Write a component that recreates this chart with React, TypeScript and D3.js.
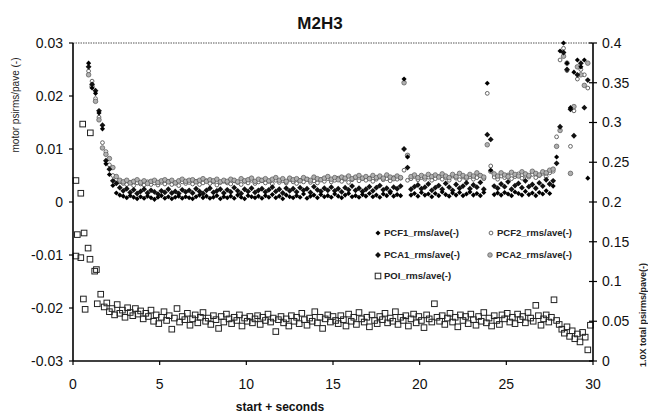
import React from "react";
import * as d3 from "d3";

const title = "M2H3";
const xTitle = "start + seconds";
const yLeftTitle = "motor psirms/pave (-)";
const yRightTitle = "1.0X total psirms/pave(-)";
const xTicks = [0, 5, 10, 15, 20, 25, 30];
const yLeftTicks = [-0.03, -0.02, -0.01, 0, 0.01, 0.02, 0.03];
const yLeftLabels = ["-0.03", "-0.02", "-0.01", "0", "0.01", "0.02", "0.03"];
const yRightTicks = [0, 0.05, 0.1, 0.15, 0.2, 0.25, 0.3, 0.35, 0.4];
const yRightLabels = ["0", "0.05", "0.1", "0.15", "0.2", "0.25", "0.3", "0.35", "0.4"];

// motor series sampled from t = 0.9 s every 0.2 s
const motorT0 = 0.9;
const motorDt = 0.2;

const pcf1 = [
  0.0262, 0.0215, 0.0205, 0.0168, 0.0138, 0.0072, 0.0052, 0.0031, 0.0017, 0.0013,
  0.0011, 0.0008, 0.0012, 0.0009, 0.0006, 0.0010, 0.0007, 0.0011, 0.0008, 0.0005,
  0.0009, 0.0012, 0.0007, 0.0010, 0.0006, 0.0009, 0.0011, 0.0007, 0.0010, 0.0008,
  0.0006, 0.0010, 0.0013, 0.0008, 0.0011, 0.0007, 0.0009, 0.0012, 0.0006, 0.0010,
  0.0008, 0.0011, 0.0007, 0.0013, 0.0009, 0.0006, 0.0012, 0.0010, 0.0008, 0.0011,
  0.0007, 0.0012, 0.0009, 0.0014, 0.0008, 0.0011, 0.0006, 0.0013, 0.0010, 0.0008,
  0.0012, 0.0009, 0.0015, 0.0007, 0.0011, 0.0013, 0.0008, 0.0014, 0.0010, 0.0012,
  0.0009, 0.0015, 0.0011, 0.0008, 0.0013, 0.0016, 0.0010, 0.0012, 0.0009, 0.0014,
  0.0011, 0.0016, 0.0010, 0.0013, 0.0009, 0.0015, 0.0012, 0.0017, 0.0011, 0.0014,
  0.0012, 0.0232, 0.0085, 0.0013, 0.0016, 0.0011, 0.0018, 0.0013, 0.0015, 0.0010,
  0.0016, 0.0012, 0.0019, 0.0014, 0.0011, 0.0017, 0.0013, 0.0018, 0.0012, 0.0015,
  0.0019, 0.0013, 0.0016, 0.0012, 0.0018, 0.0224, 0.0060, 0.0014, 0.0017, 0.0013,
  0.0018, 0.0015, 0.0012, 0.0019, 0.0016, 0.0013, 0.0020, 0.0014, 0.0017, 0.0012,
  0.0018, 0.0015, 0.0021, 0.0016, 0.0030, 0.0085, 0.0285, 0.0300, 0.0262, 0.0178,
  0.0245, 0.0268, 0.0255, 0.0268, 0.0045,
];

const pca1 = [
  0.0255, 0.0222, 0.0210, 0.0172, 0.0145, 0.0078, 0.0062, 0.0040, 0.0035, 0.0027,
  0.0021, 0.0025, 0.0018, 0.0023, 0.0016, 0.0020, 0.0024, 0.0017, 0.0022, 0.0019,
  0.0015, 0.0021, 0.0018, 0.0024, 0.0017, 0.0020, 0.0016, 0.0023, 0.0019, 0.0022,
  0.0017, 0.0025, 0.0020, 0.0016, 0.0022, 0.0026, 0.0018, 0.0021, 0.0024, 0.0017,
  0.0023, 0.0019, 0.0027, 0.0021, 0.0016, 0.0024, 0.0020, 0.0026, 0.0018, 0.0022,
  0.0025, 0.0019, 0.0023, 0.0028, 0.0020, 0.0024, 0.0017, 0.0026, 0.0021, 0.0025,
  0.0019, 0.0027, 0.0022, 0.0025, 0.0018, 0.0029, 0.0023, 0.0020, 0.0026, 0.0022,
  0.0028, 0.0021, 0.0025, 0.0019, 0.0027, 0.0023, 0.0030, 0.0022, 0.0026, 0.0020,
  0.0024, 0.0029, 0.0021, 0.0027, 0.0031, 0.0023, 0.0026, 0.0020, 0.0028, 0.0025,
  0.0030, 0.0100, 0.0065, 0.0024, 0.0029, 0.0032, 0.0025, 0.0028, 0.0034, 0.0022,
  0.0027, 0.0031, 0.0024, 0.0035, 0.0028, 0.0022, 0.0033, 0.0026, 0.0030, 0.0036,
  0.0025, 0.0032, 0.0028, 0.0037, 0.0024, 0.0127, 0.0118, 0.0030, 0.0026, 0.0034,
  0.0029, 0.0038, 0.0024, 0.0031, 0.0035, 0.0027, 0.0040, 0.0029, 0.0033, 0.0026,
  0.0036, 0.0030, 0.0042, 0.0034, 0.0040, 0.0073, 0.0142, 0.0282, 0.0250, 0.0175,
  0.0125, 0.0240, 0.0262, 0.0178, 0.0230,
];

const pcf2 = [
  0.0247, 0.0228, 0.0195, 0.0160, 0.0112, 0.0095, 0.0070, 0.0050, 0.0042, 0.0038,
  0.0035, 0.0033, 0.0037, 0.0031, 0.0036, 0.0034, 0.0032, 0.0038, 0.0033, 0.0036,
  0.0032, 0.0037, 0.0034, 0.0039, 0.0033, 0.0036, 0.0031, 0.0038, 0.0035, 0.0037,
  0.0034, 0.0039, 0.0033, 0.0036, 0.0040, 0.0035, 0.0038, 0.0032, 0.0037, 0.0039,
  0.0036, 0.0034, 0.0040, 0.0037, 0.0033, 0.0039, 0.0036, 0.0041, 0.0035, 0.0038,
  0.0040, 0.0036, 0.0039, 0.0034, 0.0041, 0.0037, 0.0040, 0.0036, 0.0042, 0.0038,
  0.0035, 0.0041, 0.0038, 0.0043, 0.0037, 0.0040, 0.0036, 0.0042, 0.0039, 0.0044,
  0.0038, 0.0041, 0.0045, 0.0039, 0.0043, 0.0037, 0.0042, 0.0046, 0.0040, 0.0044,
  0.0041, 0.0045, 0.0039, 0.0043, 0.0047, 0.0042, 0.0044, 0.0040, 0.0046, 0.0043,
  0.0045, 0.0060, 0.0041, 0.0044, 0.0048, 0.0042, 0.0046, 0.0043, 0.0047, 0.0041,
  0.0044, 0.0048, 0.0043, 0.0046, 0.0041, 0.0049, 0.0045, 0.0042, 0.0047, 0.0044,
  0.0048, 0.0043, 0.0046, 0.0050, 0.0044, 0.0205, 0.0068, 0.0047, 0.0043, 0.0049,
  0.0046, 0.0051, 0.0044, 0.0048, 0.0053, 0.0045, 0.0050, 0.0047, 0.0052, 0.0046,
  0.0050, 0.0054, 0.0048, 0.0055, 0.0058, 0.0123, 0.0268, 0.0290, 0.0248, 0.0105,
  0.0172, 0.0232, 0.0250, 0.0240, 0.0215,
];

const pca2 = [
  0.0240, 0.0218, 0.0190, 0.0155, 0.0102, 0.0090, 0.0082, 0.0065, 0.0048, 0.0041,
  0.0038, 0.0041, 0.0036, 0.0039, 0.0042, 0.0037, 0.0040, 0.0035, 0.0039, 0.0041,
  0.0037, 0.0040, 0.0042, 0.0038, 0.0041, 0.0036, 0.0040, 0.0043, 0.0039, 0.0041,
  0.0042, 0.0038, 0.0041, 0.0044, 0.0039, 0.0042, 0.0040, 0.0043, 0.0038, 0.0041,
  0.0039, 0.0043, 0.0041, 0.0038, 0.0044, 0.0040, 0.0042, 0.0045, 0.0039, 0.0043,
  0.0041, 0.0044, 0.0040, 0.0043, 0.0046, 0.0041, 0.0044, 0.0039, 0.0045, 0.0042,
  0.0044, 0.0040, 0.0046, 0.0043, 0.0041, 0.0047, 0.0044, 0.0042, 0.0045, 0.0048,
  0.0043, 0.0046, 0.0042, 0.0047, 0.0045, 0.0049, 0.0044, 0.0047, 0.0050, 0.0045,
  0.0048, 0.0044, 0.0050, 0.0046, 0.0049, 0.0045, 0.0051, 0.0047, 0.0044, 0.0049,
  0.0046, 0.0225, 0.0088, 0.0048, 0.0051, 0.0046, 0.0050, 0.0047, 0.0052, 0.0048,
  0.0051, 0.0047, 0.0053, 0.0049, 0.0046, 0.0052, 0.0048, 0.0054, 0.0050, 0.0047,
  0.0052, 0.0049, 0.0055, 0.0050, 0.0047, 0.0108, 0.0058, 0.0053, 0.0049, 0.0055,
  0.0051, 0.0048, 0.0056, 0.0052, 0.0049, 0.0057, 0.0053, 0.0050, 0.0058, 0.0054,
  0.0051, 0.0057, 0.0055, 0.0060, 0.0062, 0.0105, 0.0135, 0.0275, 0.0262, 0.0054,
  0.0180, 0.0255, 0.0240, 0.0220, 0.0262,
];

// POI (right axis): early readings with their times, then every 0.15 s from 1.8 s
const poiEarlyT = [0.17, 0.17, 0.25, 0.45, 0.45, 0.56, 0.6, 0.64, 0.7, 0.87, 0.98, 1.0, 1.25, 1.35, 1.4, 1.6];
const poiEarlyV = [0.227, 0.132, 0.159, 0.211, 0.13, 0.298, 0.078, 0.161, 0.065, 0.142, 0.128, 0.287, 0.113, 0.115, 0.072, 0.084];
const poiT0 = 1.8;
const poiDt = 0.15;
const poi = [
  0.068, 0.073, 0.062, 0.066, 0.058, 0.071, 0.060, 0.064, 0.055, 0.067,
  0.061, 0.057, 0.066, 0.059, 0.063, 0.053, 0.060, 0.056, 0.064, 0.050,
  0.058, 0.047, 0.055, 0.062, 0.051, 0.057, 0.040, 0.054, 0.066, 0.049,
  0.056, 0.052, 0.060, 0.045, 0.053, 0.058, 0.048, 0.055, 0.061, 0.050,
  0.054, 0.046, 0.057, 0.052, 0.041, 0.056, 0.049, 0.059, 0.053, 0.047,
  0.055, 0.051, 0.058, 0.044, 0.054, 0.050, 0.056, 0.048, 0.053, 0.057,
  0.046, 0.055, 0.051, 0.059, 0.049, 0.054, 0.037, 0.052, 0.056, 0.048,
  0.053, 0.044, 0.057, 0.050, 0.055, 0.047, 0.060, 0.052, 0.045, 0.054,
  0.050, 0.062, 0.048, 0.055, 0.041, 0.053, 0.058, 0.049, 0.056, 0.051,
  0.047, 0.057, 0.052, 0.044, 0.059, 0.050, 0.055, 0.046, 0.061, 0.053,
  0.049, 0.055, 0.043, 0.058, 0.051, 0.047, 0.056, 0.052, 0.060, 0.048,
  0.054, 0.050, 0.062, 0.046, 0.055, 0.051, 0.057, 0.044, 0.053, 0.059,
  0.048, 0.056, 0.051, 0.042, 0.058, 0.053, 0.049, 0.072, 0.055, 0.050,
  0.057, 0.046, 0.054, 0.060, 0.049, 0.055, 0.043, 0.058, 0.051, 0.056,
  0.047, 0.059, 0.052, 0.045, 0.056, 0.050, 0.061, 0.048, 0.054, 0.044,
  0.057, 0.051, 0.046, 0.058, 0.053, 0.060, 0.049, 0.055, 0.047, 0.059,
  0.052, 0.056, 0.048, 0.061, 0.054, 0.050, 0.070, 0.057, 0.045, 0.053,
  0.058, 0.049, 0.055, 0.077, 0.051, 0.046, 0.040, 0.035, 0.043, 0.031,
  0.038, 0.028, 0.034, 0.024, 0.036, 0.030, 0.014, 0.045,
];

const legendNames = ["PCF1_rms/ave(-)", "PCF2_rms/ave(-)", "PCA1_rms/ave(-)", "PCA2_rms/ave(-)", "POI_rms/ave(-)"];

const FONT = "'Liberation Sans', Arial, Helvetica, sans-serif";

type Style = "pcf1" | "pcf2" | "pca1" | "pca2" | "poi";

const diamondSmall = d3.symbol().type(d3.symbolSquare).size(13)() as string;
const diamondBig = d3.symbol().type(d3.symbolSquare).size(17)() as string;

function Marker({ kind, cx, cy }: { kind: Style; cx: number; cy: number }) {
  switch (kind) {
    case "pcf1":
      return <path d={diamondSmall} transform={`translate(${cx},${cy}) rotate(45)`} fill="#000" />;
    case "pca1":
      return <path d={diamondBig} transform={`translate(${cx},${cy}) rotate(45)`} fill="#111" />;
    case "pcf2":
      return <circle cx={cx} cy={cy} r={1.9} fill="#fff" stroke="#555" strokeWidth={0.9} />;
    case "pca2":
      return <circle cx={cx} cy={cy} r={2.3} fill="#b0b0b0" stroke="#555" strokeWidth={0.7} />;
    case "poi":
      return <rect x={cx - 2.8} y={cy - 2.8} width={5.6} height={5.6} fill="none" stroke="#222" strokeWidth={1} />;
  }
}

export default function App() {
  const W = 648;
  const H = 414;
  const left = 73, right = 593, top = 43, bottom = 361;
  const x = d3.scaleLinear().domain([0, 30]).range([left, right]);
  const yL = d3.scaleLinear().domain([-0.03, 0.03]).range([bottom, top]);
  const yR = d3.scaleLinear().domain([0, 0.4]).range([bottom, top]);

  const motor = (arr: number[]) => arr.map((v, i) => ({ t: motorT0 + motorDt * i, v }));
  const poiPts = [
    ...poiEarlyT.map((t, i) => ({ t, v: poiEarlyV[i] })),
    ...poi.map((v, i) => ({ t: poiT0 + poiDt * i, v })),
  ];

  const legendItems: { kind: Style; name: string; lx: number; ly: number }[] = [
    { kind: "pcf1", name: legendNames[0], lx: 378, ly: 233 },
    { kind: "pcf2", name: legendNames[1], lx: 491, ly: 233 },
    { kind: "pca1", name: legendNames[2], lx: 378, ly: 255 },
    { kind: "pca2", name: legendNames[3], lx: 490, ly: 255 },
    { kind: "poi", name: legendNames[4], lx: 378, ly: 276 },
  ];

  return (
    <svg width={W} height={H} style={{ position: "absolute", left: 0, top: 0, background: "#fff" }} fontFamily={FONT}>
      <rect width={W} height={H} fill="#fff" />
      <text x={320} y={29} textAnchor="middle" fontSize={17} fontWeight="bold" fill="#111">{title}</text>

      {/* top frame (dotted) */}
      <line x1={left} x2={right} y1={top} y2={top} stroke="#555" strokeWidth={1} strokeDasharray="1.5,1" />

      {/* data */}
      <g>
        {poiPts.map((d, i) => <Marker key={"poi" + i} kind="poi" cx={x(d.t)} cy={yR(d.v)} />)}
        {motor(pcf2).map((d, i) => <Marker key={"f2" + i} kind="pcf2" cx={x(d.t)} cy={yL(d.v)} />)}
        {motor(pca2).map((d, i) => <Marker key={"a2" + i} kind="pca2" cx={x(d.t)} cy={yL(d.v)} />)}
        {motor(pca1).map((d, i) => <Marker key={"a1" + i} kind="pca1" cx={x(d.t)} cy={yL(d.v)} />)}
        {motor(pcf1).map((d, i) => <Marker key={"f1" + i} kind="pcf1" cx={x(d.t)} cy={yL(d.v)} />)}
      </g>

      {/* axes */}
      <line x1={left} x2={left} y1={top} y2={bottom} stroke="#000" strokeWidth={1.6} />
      <line x1={right} x2={right} y1={top} y2={bottom} stroke="#000" strokeWidth={1.6} />
      <line x1={left} x2={right} y1={bottom} y2={bottom} stroke="#000" strokeWidth={1.6} />

      {yLeftTicks.map((v, i) => (
        <g key={"yl" + i}>
          <line x1={left - 4} x2={left} y1={yL(v)} y2={yL(v)} stroke="#000" strokeWidth={1.2} />
          <text x={left - 10} y={yL(v)} dy="0.35em" textAnchor="end" fontSize={14} fill="#111">{yLeftLabels[i]}</text>
        </g>
      ))}
      {yRightTicks.map((v, i) => (
        <g key={"yr" + i}>
          <line x1={right - 4} x2={right + 4} y1={yR(v)} y2={yR(v)} stroke="#000" strokeWidth={1.2} />
          <text x={right + 9} y={yR(v)} dy="0.35em" textAnchor="start" fontSize={14} fill="#111">{yRightLabels[i]}</text>
        </g>
      ))}
      {xTicks.map((v, i) => (
        <g key={"x" + i}>
          <line x1={x(v)} x2={x(v)} y1={bottom} y2={bottom + 4} stroke="#000" strokeWidth={1.2} />
          <text x={x(v)} y={bottom + 28} textAnchor="middle" fontSize={14} fill="#111">{String(v)}</text>
        </g>
      ))}

      <text x={280} y={411} textAnchor="middle" fontSize={12} fontWeight="bold" fill="#111">{xTitle}</text>
      <text transform={`translate(19,105) rotate(-90)`} textAnchor="middle" fontSize={10} fill="#222">{yLeftTitle}</text>
      <text transform={`translate(646,315) rotate(-90)`} textAnchor="middle" fontSize={9} fontWeight="bold" fill="#222">{yRightTitle}</text>

      {/* legend */}
      {legendItems.map((l, i) => (
        <g key={"lg" + i}>
          <Marker kind={l.kind} cx={l.lx} cy={l.ly} />
          <text x={l.lx + 6} y={l.ly} dy="0.35em" fontSize={9.5} fontWeight="bold" fill="#222">{l.name}</text>
        </g>
      ))}
    </svg>
  );
}
